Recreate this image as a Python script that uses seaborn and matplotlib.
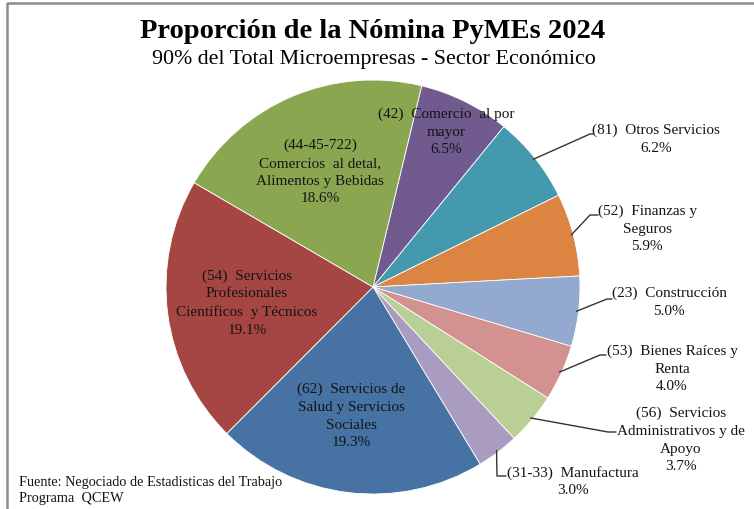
import numpy as np
import matplotlib
matplotlib.use("Agg")
import matplotlib.pyplot as plt
import seaborn as sns
from matplotlib.lines import Line2D

# ---------------- data ----------------
codes = ["(42)", "(81)", "(52)", "(23)", "(53)", "(56)", "(31-33)", "(62)", "(54)", "(44-45-722)"]
sectors = ["Comercio  al por\nmayor", "Otros Servicios", "Finanzas y\nSeguros", "Construcción",
           "Bienes Raíces y\nRenta", "Servicios\nAdministrativos y de\nApoyo", "Manufactura",
           "Servicios de\nSalud y Servicios\nSociales", "Servicios\nProfesionales\nCientíficos  y Técnicos",
           "Comercios  al detal,\nAlimentos y Bebidas"]
shares = [6.5, 6.2, 5.9, 5.0, 4.0, 3.7, 3.0, 19.3, 19.1, 18.6]
colors = ["#705a8e", "#4599ae", "#dc8542", "#93a9cf", "#d3918f", "#bacf95", "#a99cc0",
          "#4672a4", "#a64643", "#8ba650"]

title = "Proporción de la Nómina PyMEs 2024"
subtitle = "90% del Total Microempresas - Sector Económico"
source = "Fuente: Negociado de Estadisticas del Trabajo\nPrograma  QCEW"

# ---------------- layout ----------------
W, H = 754, 510
CX, CY, R = 373, 288, 207
sns.set_theme(style="white")
plt.rcParams["font.family"] = ["Liberation Serif", "DejaVu Serif"]

fig = plt.figure(figsize=(W / 100, H / 100), dpi=100)
fig.patch.set_facecolor("white")
ax = fig.add_axes([(CX - R) / W, (H - CY - R) / H, 2 * R / W, 2 * R / H])
ax.set_aspect("equal")
ax.axis("off")

startangle = 90 - 13.6
wedges, _ = ax.pie(shares, colors=colors, startangle=startangle, counterclock=False,
                   wedgeprops=dict(edgecolor="white", linewidth=0.6))
ax.set_xlim(-1, 1)
ax.set_ylim(-1, 1)


def fpx(x, y):
    return (x / W, 1 - y / H)


def label_text(i):
    code = codes[i]
    sec = sectors[i]
    if code == "(44-45-722)":
        return f"{code}\n{sec}\n{shares[i]:.1f}%"
    return f"{code}  {sec}\n{shares[i]:.1f}%"

# inside labels (center pixel positions)
inside = {0: (446, 132), 9: (320, 172), 8: (247, 303), 7: (351, 416)}
# outside labels: text center, leader elbow, leader end
outside = {
    1: ((656, 139.5), (590, 135), (593, 135)),
    2: ((647, 229), (590, 216), (598, 216)),
    3: ((669, 302.5), (607, 300), (612, 300)),
    4: ((672, 369), (600, 356), (606, 356)),
    5: ((681, 440), (608, 433), (616, 433)),
    6: ((573, 481.5), (497, 477), (506, 477)),
}

fs = 11
ls = 1.46
for i, (x, y) in inside.items():
    fig.text(*fpx(x, y), label_text(i), ha="center", va="center", fontsize=fs,
             color="#141414", linespacing=ls)

for i, ((tx, ty), (ex, ey), (lx, ly)) in outside.items():
    fig.text(*fpx(tx, ty), label_text(i), ha="center", va="center", fontsize=fs,
             color="#141414", linespacing=ls)
    w = wedges[i]
    mid = np.deg2rad((w.theta1 + w.theta2) / 2)
    p = ax.transData.transform((0.99 * np.cos(mid), 0.99 * np.sin(mid)))
    p = fig.transFigure.inverted().transform(p)
    e = fpx(ex, ey)
    l = fpx(lx, ly)
    fig.add_artist(Line2D([p[0], e[0], l[0]], [p[1], e[1], l[1]], color="#333333", lw=1.0))

fig.text(*fpx(373, 38), title, ha="center", va="baseline", fontsize=20.5, fontweight="bold", color="black")
fig.text(*fpx(374, 64), subtitle, ha="center", va="baseline", fontsize=15.8, color="black")
fig.text(*fpx(19, 491), source, ha="left", va="center", fontsize=10.3, color="#141414", linespacing=1.3)

# outer frame (top and left edges visible)
fig.add_artist(Line2D([7 / W, 7 / W, 1], [0, 1 - 4 / H, 1 - 4 / H], color="#8c8c8c", lw=1.8))

fig.savefig("out.png", dpi=100, facecolor="white")
